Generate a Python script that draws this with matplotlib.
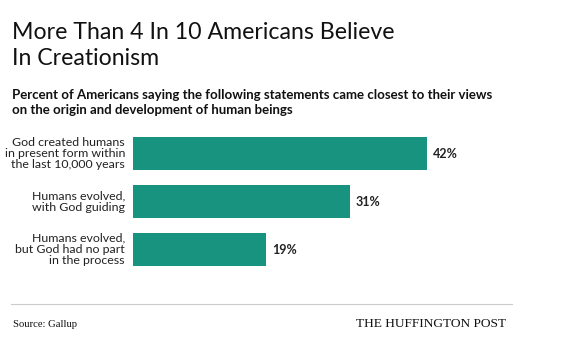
import matplotlib
matplotlib.use('Agg')
import matplotlib.pyplot as plt

categories = ['God created humans\nin present form within\nthe last 10,000 years',
              'Humans evolved,\nwith God guiding',
              'Humans evolved,\nbut God had no part\nin the process']
values = [42, 31, 19]
labels = ['42%', '31%', '19%']
title_lines = ['More Than 4 In 10 Americans Believe', 'In Creationism']
subtitle_lines = ['Percent of Americans saying the following statements came closest to their views',
                  'on the origin and development of human beings']

W, H = 570, 353
TEAL = '#17937f'


def fx(x):
    return x / W


def fy(y):
    return 1 - y / H


fig = plt.figure(figsize=(W / 100, H / 100), dpi=100)
fig.patch.set_facecolor('white')

# bar area: x from 133 px, 7 px per percent
ax = fig.add_axes([fx(133), fy(273.5), 420 / W, 144 / H])
ax.barh(range(len(values)), values, height=0.69, color=TEAL)
ax.set_xlim(0, 60)
ax.set_ylim(2.5, -0.5)
ax.axis('off')

for i, (v, lab) in enumerate(zip(values, labels)):
    ax.text(v + 0.85, i, lab, va='center', ha='left', fontsize=9,
            fontweight='bold', family='Lato', color='#222222')
    ax.text(-1.15, i, categories[i], va='center', ha='right', fontsize=8.9,
            family='Lato', color='#222222', linespacing=1.05)

for j, line in enumerate(title_lines):
    fig.text(fx(12), fy(39 + 26 * j), line, fontsize=16.7, family='Lato',
             color='#111111', va='baseline')
for j, line in enumerate(subtitle_lines):
    fig.text(fx(12), fy(99 + 15 * j), line, fontsize=9.5, family='Lato',
             fontweight='bold', color='#111111', va='baseline')

fig.add_artist(plt.Line2D([fx(11), fx(512)], [fy(304), fy(304)],
                          color='#cccccc', linewidth=0.8))
fig.text(fx(13), fy(327), 'Source: Gallup', fontsize=7.7, family='Liberation Serif',
         color='#111111', va='baseline')
fig.text(fx(506), fy(327), 'THE HUFFINGTON POST', fontsize=9.6,
         family='Liberation Serif', color='#111111', va='baseline', ha='right')

fig.savefig('out.png', dpi=100, facecolor='white')
